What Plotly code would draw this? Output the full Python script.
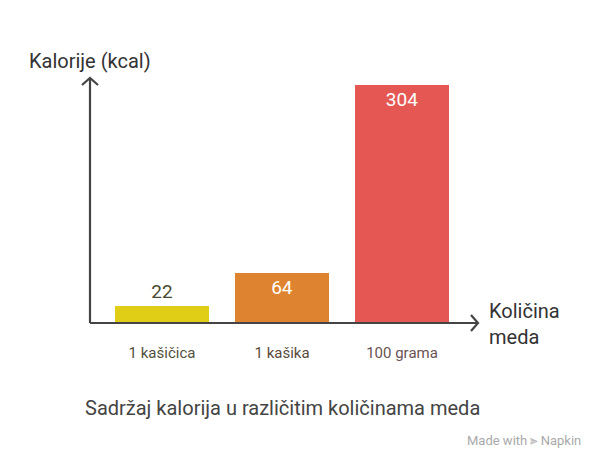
import plotly.graph_objects as go

categories = ["1 kašičica", "1 kašika", "100 grama"]
values = [22, 64, 304]
bar_colors = ["#E0CD16", "#DE8430", "#E45753"]
label_colors = ["#52503A", "#5A4A3A", "#6A5252"]
value_text_colors = ["#4A4A30", "#FFFFFF", "#FFFFFF"]
text_positions = ["outside", "inside", "inside"]

# the page body adds an 8px margin; size the figure so it fits the 594x468 window
OFF = 8
W, H = 594 - 2 * OFF, 468 - 2 * OFF
# plot area in page pixels
PLOT_L, PLOT_R, PLOT_T, PLOT_B = 90, 478, 78, 323
ML, MT = PLOT_L - OFF, PLOT_T - OFF
MR = W - (PLOT_R - OFF)
MB = H - (PLOT_B - OFF)
PW, PH = PLOT_R - PLOT_L, PLOT_B - PLOT_T
FONT = "Roboto"
AXIS_COLOR = "#444444"

x_idx = list(range(len(categories)))
ticktext = [f"<span style='color:{c}'>{t}</span>" for t, c in zip(categories, label_colors)]

fig = go.Figure(
    go.Bar(
        x=x_idx,
        y=values,
        width=0.783,
        marker=dict(color=bar_colors, line=dict(width=0)),
        text=[str(v) for v in values],
        textposition=text_positions,
        insidetextanchor="end",
        textfont=dict(family=FONT, size=19, color=value_text_colors),
        outsidetextfont=dict(family=FONT, size=19, color=value_text_colors[0]),
        insidetextfont=dict(family=FONT, size=19, color="#FFFFFF"),
        textangle=0,
        cliponaxis=False,
        hoverinfo="skip",
    )
)


def px(dx):
    return dx / PW


def py(dy):
    return dy / PH


def page_x(x):
    return px(x - PLOT_L)


def page_y(y):
    return py(PLOT_B - y)


shapes = [
    dict(type="line", xref="paper", yref="paper", x0=0, y0=0, x1=1, y1=0,
         line=dict(color=AXIS_COLOR, width=2.2)),
    dict(type="line", xref="paper", yref="paper", x0=0, y0=0, x1=0, y1=1,
         line=dict(color=AXIS_COLOR, width=2.2)),
    dict(type="path", xref="paper", yref="paper",
         path=f"M {1-px(7)},{py(8)} L 1,0 L {1-px(7)},{-py(8)}",
         line=dict(color=AXIS_COLOR, width=2.2)),
    dict(type="path", xref="paper", yref="paper",
         path=f"M {-px(8)},{1-py(7)} L 0,1 L {px(8)},{1-py(7)}",
         line=dict(color=AXIS_COLOR, width=2.2)),
]

annotations = [
    dict(text="Kalorije (kcal)", xref="paper", yref="paper",
         x=page_x(90), y=page_y(61), xanchor="center", yanchor="middle",
         showarrow=False, font=dict(family=FONT, size=20, color="#333333")),
    dict(text="Količina<br>meda", xref="paper", yref="paper",
         x=page_x(487), y=page_y(324), xanchor="left", yanchor="middle", align="left",
         showarrow=False, font=dict(family=FONT, size=20, color="#333333")),
    dict(text="Sadržaj kalorija u različitim količinama meda", xref="paper", yref="paper",
         x=page_x(282), y=page_y(408), xanchor="center", yanchor="middle",
         showarrow=False, font=dict(family=FONT, size=20, color="#444444")),
    dict(text="Made with ⫸ Napkin", xref="paper", yref="paper",
         x=page_x(583), y=page_y(440), xanchor="right", yanchor="middle",
         showarrow=False, font=dict(family=FONT, size=13, color="#AAAAAA")),
]

fig.update_layout(
    width=W, height=H,
    margin=dict(l=ML, r=MR, t=MT, b=MB, pad=0),
    paper_bgcolor="white", plot_bgcolor="white",
    showlegend=False,
    shapes=shapes,
    annotations=annotations,
    bargap=0,
    xaxis=dict(
        range=[-0.6, 2.633], tickmode="array", tickvals=x_idx, ticktext=ticktext,
        showgrid=False, zeroline=False, showline=False, ticks="",
        tickfont=dict(family=FONT, size=15), ticklabelstandoff=19, fixedrange=True,
    ),
    yaxis=dict(
        range=[0, PH / (238 / 304)], showgrid=False, zeroline=False, showline=False,
        showticklabels=False, ticks="", fixedrange=True,
    ),
    font=dict(family=FONT),
)

fig.write_html("out.html", config={"displayModeBar": False})
